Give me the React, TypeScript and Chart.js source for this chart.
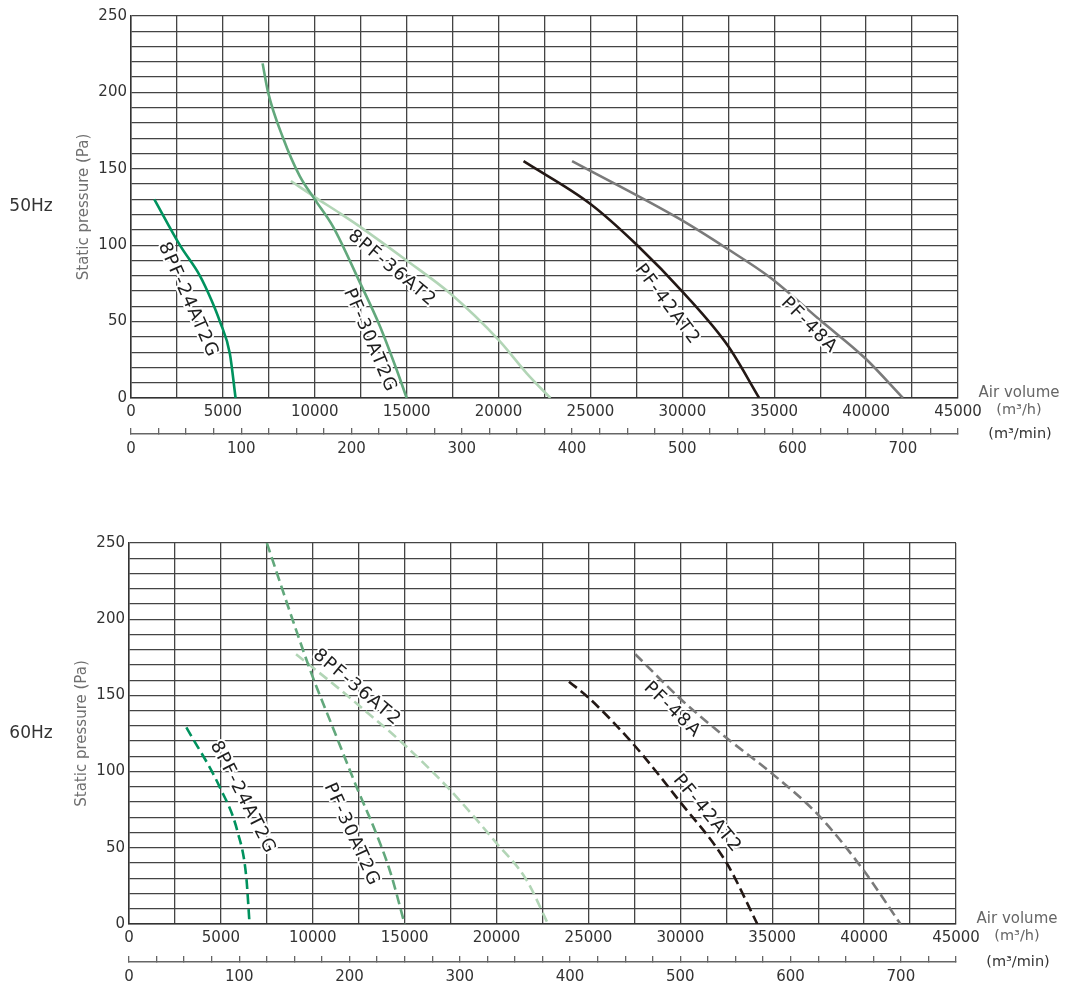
import React, { useEffect, useRef } from "react";
import { Chart, registerables } from "chart.js";

Chart.register(...registerables);

const FONT = "'DejaVu Sans', 'Liberation Sans', sans-serif";

// ---------- axis ticks ----------
const pressureTicksMajor = [0, 50, 100, 150, 200, 250];
const volumeHourTicksMajor = [0, 5000, 10000, 15000, 20000, 25000, 30000, 35000, 40000, 45000];
const volumeMinTicksMajor = [0, 100, 200, 300, 400, 500, 600, 700];

// ---------- 50 Hz (solid) ----------
const vol24At50 = [1270, 2660, 3750, 4380, 4840, 5380, 5690];
const pa24At50 = [130, 100, 80, 64, 50, 29, 0];

const vol30At50 = [7160, 7460, 8280, 9190, 10000, 11000, 12400, 13545, 14455, 15000];
const pa30At50 = [219, 200, 170, 145, 130, 112, 77, 47, 18.5, 0];

const vol36At50 = [8700, 10000, 11360, 12355, 15000, 17360, 20000, 21545, 22820];
const pa36At50 = [142, 131.5, 121, 113, 90, 68.5, 38, 16, 0];

const vol42At50 = [21360, 25000, 27545, 30090, 32490, 34180];
const pa42At50 = [155, 127, 100, 68.5, 34, 0];

const vol48At50 = [24000, 29870, 32400, 34760, 37490, 39950, 42000];
const pa48At50 = [155, 117, 98, 79, 51, 26, 0];

// ---------- 60 Hz (dashed) ----------
const vol24At60 = [3120, 4930, 5920, 6380, 6560];
const pa24At60 = [129, 90, 60, 31, 0];

const vol30At60 = [7500, 9090, 10000, 11090, 12450, 13400, 14220, 15000];
const pa30At60 = [250, 193, 162, 129, 88, 61, 34, 0];

const vol36At60 = [9090, 11520, 12450, 14950, 17470, 20000, 21625, 22800];
const pa36At60 = [177, 153.5, 144, 118, 88, 53, 29, 0];

const vol42At60 = [23940, 24960, 27400, 29930, 32520, 34190];
const pa42At60 = [159, 149, 118.6, 81, 40, 0];

const vol48At60 = [27550, 29980, 30920, 32520, 34960, 37500, 39950, 41975];
const pa48At60 = [177, 148, 138, 122, 99, 71.6, 35.6, 0];

// ---------- model names ----------
const modelNames = ["8PF-24AT2G", "PF-30AT2G", "8PF-36AT2", "PF-42AT2", "PF-48A"];
const modelColors = ["#00925e", "#62a87c", "#b2d5b6", "#231815", "#7a7a7a"];

// curve label anchors (data units) and angles (deg)
const labelVol50 = [3100, 13000, 14200, 29170, 36900];
const labelPa50 = [64, 37.5, 84.7, 61, 47.4];
const labelAngle50 = [66, 67, 40, 53, 45];

const labelVol60 = [6190, 12110, 12400, 31460, 29560];
const labelPa60 = [82.8, 58.5, 155, 72.3, 140.4];
const labelAngle60 = [63, 65.5, 40, 50, 44];

function zip(xs: number[], ys: number[]) {
  return xs.map((x, i) => ({ x, y: ys[i] }));
}

type Panel = {
  hz: string;
  dashed: boolean;
  vols: number[][];
  pas: number[][];
  labelVol: number[];
  labelPa: number[];
  labelAngle: number[];
  height: number;
  padTop: number;
  padRight: number;
  yWidth: number;
  xHeight: number;
  x2Height: number;
};

const panels: Panel[] = [
  {
    hz: "50Hz",
    dashed: false,
    vols: [vol24At50, vol30At50, vol36At50, vol42At50, vol48At50],
    pas: [pa24At50, pa30At50, pa36At50, pa42At50, pa48At50],
    labelVol: labelVol50,
    labelPa: labelPa50,
    labelAngle: labelAngle50,
    height: 490,
    padTop: 16,
    padRight: 107,
    yWidth: 131,
    xHeight: 36,
    x2Height: 56,
  },
  {
    hz: "60Hz",
    dashed: true,
    vols: [vol24At60, vol30At60, vol36At60, vol42At60, vol48At60],
    pas: [pa24At60, pa30At60, pa36At60, pa42At60, pa48At60],
    labelVol: labelVol60,
    labelPa: labelPa60,
    labelAngle: labelAngle60,
    height: 491,
    padTop: 53,
    padRight: 109,
    yWidth: 129,
    xHeight: 38,
    x2Height: 19,
  },
];

function PanelChart({ panel }: { panel: Panel }) {
  const ref = useRef<HTMLCanvasElement | null>(null);

  useEffect(() => {
    if (!ref.current) return;
    const datasets = modelNames.map((name, i) => ({
      label: name,
      data: zip(panel.vols[i], panel.pas[i]),
      borderColor: modelColors[i],
      backgroundColor: modelColors[i],
      borderWidth: 2.6,
      borderDash: panel.dashed ? [10, 5] : [],
      pointRadius: 0,
      fill: false,
      showLine: true,
      cubicInterpolationMode: "monotone" as const,
    }));

    const textPlugin = {
      id: "panelText",
      afterDatasetsDraw(chart: any) {
        const ctx = chart.ctx as CanvasRenderingContext2D;
        const xs = chart.scales.x;
        const ys = chart.scales.y;
        ctx.save();
        ctx.font = `18px ${FONT}`;
        (ctx as any).letterSpacing = "1.5px";
        ctx.textAlign = "center";
        ctx.textBaseline = "middle";
        ctx.lineJoin = "round";
        modelNames.forEach((name, i) => {
          const px = xs.getPixelForValue(panel.labelVol[i]);
          const py = ys.getPixelForValue(panel.labelPa[i]);
          ctx.save();
          ctx.translate(px, py);
          ctx.rotate((panel.labelAngle[i] * Math.PI) / 180);
          ctx.strokeStyle = "#ffffff";
          ctx.lineWidth = 4;
          ctx.strokeText(name, 0, 0);
          ctx.fillStyle = "#1e1e1e";
          ctx.fillText(name, 0, 0);
          ctx.restore();
        });
        ctx.restore();
      },
      afterDraw(chart: any) {
        const ctx = chart.ctx as CanvasRenderingContext2D;
        const area = chart.chartArea;
        const x2 = chart.scales.x2;
        ctx.save();
        ctx.textAlign = "center";
        ctx.textBaseline = "middle";
        ctx.fillStyle = "#333";
        ctx.font = `17px ${FONT}`;
        ctx.fillText(panel.hz, 31, (area.top + area.bottom) / 2);
        ctx.fillStyle = "#666";
        ctx.font = `15px ${FONT}`;
        ctx.fillText("Air volume", area.right + 61, area.bottom - 5);
        ctx.font = `14.5px ${FONT}`;
        ctx.fillText("(m³/h)", area.right + 61, area.bottom + 12);
        ctx.fillStyle = "#333";
        ctx.fillText("(m³/min)", area.right + 62, x2.top);
        ctx.restore();
      },
    };

    const chart = new Chart(ref.current, {
      type: "line",
      data: { datasets },
      options: {
        animation: false,
        responsive: false,
        events: [],
        layout: {
          padding: { top: panel.padTop, right: panel.padRight, left: 0, bottom: 0 },
        },
        plugins: {
          legend: { display: false },
          tooltip: { enabled: false },
        },
        scales: {
          x: {
            type: "linear",
            position: "bottom",
            weight: 0,
            min: 0,
            max: 45000,
            afterFit: (s: any) => {
              s.height = panel.xHeight;
            },
            afterBuildTicks: (s: any) => {
              const t = [];
              for (let v = 0; v <= 45000; v += 2500) t.push({ value: v });
              s.ticks = t;
            },
            grid: { color: "#444", lineWidth: 1.3, drawTicks: false },
            border: { color: "#333", width: 1.5 },
            ticks: {
              autoSkip: false,
              maxRotation: 0,
              padding: 5,
              color: "#333",
              font: { family: FONT, size: 15 },
              callback: (v: any) =>
                volumeHourTicksMajor.includes(Number(v)) ? String(v) : "",
            },
          },
          x2: {
            type: "linear",
            position: "bottom",
            weight: 1,
            min: 0,
            max: 750,
            afterFit: (s: any) => {
              s.height = panel.x2Height;
            },
            afterBuildTicks: (s: any) => {
              const t = [];
              for (let v = 0; v <= 750; v += 25) t.push({ value: v });
              s.ticks = t;
            },
            grid: {
              drawOnChartArea: false,
              color: "#666",
              lineWidth: 1.3,
              tickLength: -6,
            },
            border: { color: "#666", width: 1.5 },
            ticks: {
              autoSkip: false,
              maxRotation: 0,
              padding: 12,
              color: "#333",
              font: { family: FONT, size: 15 },
              callback: (v: any) =>
                volumeMinTicksMajor.includes(Number(v)) ? String(v) : "",
            },
          },
          y: {
            type: "linear",
            position: "left",
            min: 0,
            max: 250,
            afterFit: (s: any) => {
              s.width = panel.yWidth;
            },
            afterBuildTicks: (s: any) => {
              const t = [];
              for (let v = 0; v <= 250; v += 10) t.push({ value: v });
              s.ticks = t;
            },
            grid: { color: "#444", lineWidth: 1.3, drawTicks: false },
            border: { color: "#333", width: 1.5 },
            title: {
              display: true,
              text: "Static pressure (Pa)",
              color: "#6f6f6f",
              font: { family: FONT, size: 15 },
              padding: { top: panel.yWidth - 56, bottom: 0 },
            },
            ticks: {
              autoSkip: false,
              padding: 4,
              color: "#333",
              font: { family: FONT, size: 15 },
              callback: (v: any) =>
                pressureTicksMajor.includes(Number(v)) ? String(v) : "",
            },
          },
        },
      },
      plugins: [textPlugin],
    } as any);

    return () => chart.destroy();
  }, [panel]);

  return (
    <canvas
      ref={ref}
      width={1065}
      height={panel.height}
      style={{ display: "block", width: 1065, height: panel.height }}
    />
  );
}

export default function App() {
  return (
    <div
      style={{
        position: "absolute",
        left: 0,
        top: 0,
        width: 1065,
        height: 981,
        background: "#ffffff",
        overflow: "hidden",
      }}
    >
      {panels.map((p) => (
        <PanelChart key={p.hz} panel={p} />
      ))}
    </div>
  );
}
